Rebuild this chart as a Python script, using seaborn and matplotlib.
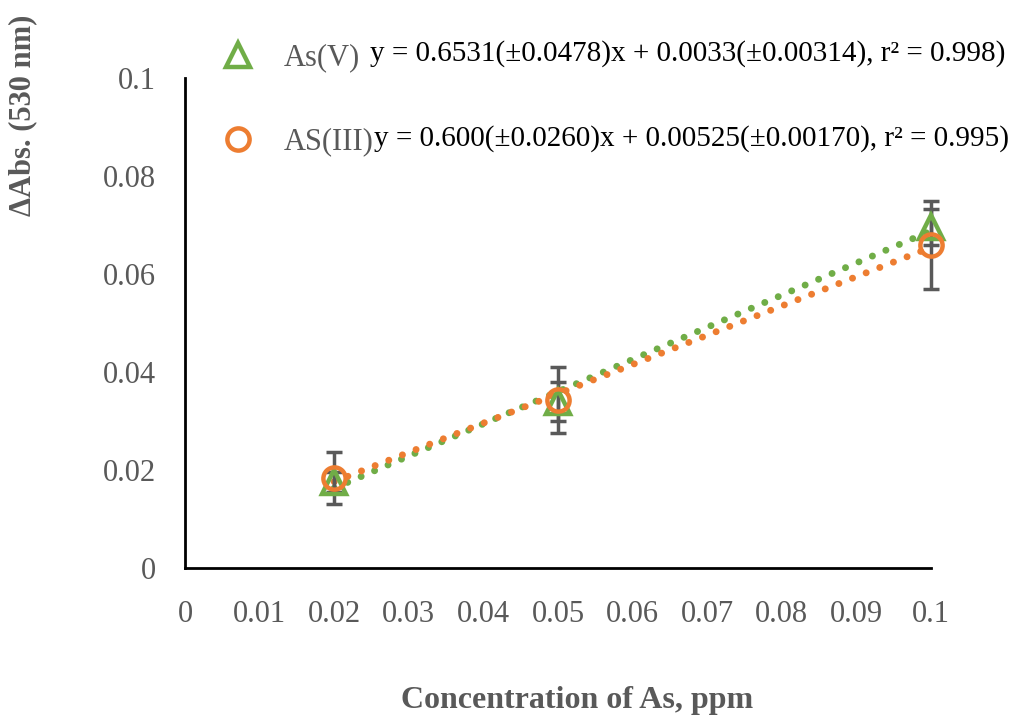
import numpy as np
import pandas as pd
import matplotlib
matplotlib.use("Agg")
import matplotlib.pyplot as plt
from matplotlib.lines import Line2D
import seaborn as sns

# ---- data ----
conc = [0.02, 0.05, 0.10]
as5_abs = [0.0176, 0.0339, 0.0696]
as5_err = [0.0020, 0.0040, 0.0037]
as3_abs = [0.0184, 0.0343, 0.0659]
as3_err = [0.0053, 0.0068, 0.0089]

series_names = ["As(V)", "AS(III)"]
equations = ["y = 0.6531(\u00b10.0478)x + 0.0033(\u00b10.00314), r\u00b2 = 0.998)",
             "y = 0.600(\u00b10.0260)x + 0.00525(\u00b10.00170), r\u00b2 = 0.995)"]
x_ticks = [0, 0.01, 0.02, 0.03, 0.04, 0.05, 0.06, 0.07, 0.08, 0.09, 0.1]
x_ticklabels = ["0", "0.01", "0.02", "0.03", "0.04", "0.05", "0.06", "0.07", "0.08", "0.09", "0.1"]
y_ticks = [0, 0.02, 0.04, 0.06, 0.08, 0.1]
y_ticklabels = ["0", "0.02", "0.04", "0.06", "0.08", "0.1"]
x_label = "Concentration of As, ppm"
y_label = "\u0394Abs. (530 nm)"

green = "#70AD47"
orange = "#ED7D31"
gray = "#595959"

sns.set_style("white")
plt.rcParams["font.family"] = ["Liberation Serif", "DejaVu Serif"]

df5 = pd.DataFrame({"x": conc, "y": as5_abs})
df3 = pd.DataFrame({"x": conc, "y": as3_abs})

fig = plt.figure(figsize=(10.17, 7.21), dpi=100)
ax = fig.add_axes([0.1819, 0.2122, 0.9154 - 0.1819, 0.8918 - 0.2122])

dot = (0, (0.01, 2.1))
sns.regplot(data=df5, x="x", y="y", ax=ax, scatter=False, ci=None, truncate=True,
            line_kws=dict(color=green, lw=5, linestyle=dot, dash_capstyle="round"))
sns.regplot(data=df3, x="x", y="y", ax=ax, scatter=False, ci=None, truncate=True,
            line_kws=dict(color=orange, lw=5, linestyle=dot, dash_capstyle="round"))

for yv, ev in [(as5_abs, as5_err), (as3_abs, as3_err)]:
    eb = ax.errorbar(conc, yv, yerr=ev, fmt="none", ecolor=gray, elinewidth=2.5,
                     capsize=6, capthick=2.5, zorder=3)
    for art in eb.lines[1] + eb.lines[2]:
        art.set_clip_on(False)

ax.plot(conc, as5_abs, linestyle="none", marker="^", ms=17, mfc="none", mec=green,
        mew=3.2, zorder=4, clip_on=False)
ax.plot(conc, as3_abs, linestyle="none", marker="o", ms=16, mfc="none", mec=orange,
        mew=3.2, zorder=5, clip_on=False)

ax.set_xlim(0, 0.1)
ax.set_ylim(0, 0.1)
ax.set_xticks(x_ticks)
ax.set_xticklabels(x_ticklabels)
ax.set_yticks(y_ticks)
ax.set_yticklabels(y_ticklabels)
ax.set_xlabel("")
ax.set_ylabel("")
for s in ["top", "right"]:
    ax.spines[s].set_visible(False)
for s in ["left", "bottom"]:
    ax.spines[s].set_color("black")
    ax.spines[s].set_linewidth(2)
ax.tick_params(axis="both", which="major", direction="out", length=9, width=2,
               color="black", labelsize=22, labelcolor=gray)
ax.tick_params(axis="x", pad=14)
ax.tick_params(axis="y", pad=12)
ax.grid(False)

fig.text(0.567, 0.029, x_label, ha="center", va="center", fontsize=23,
         fontweight="bold", color=gray)
fig.text(0.022, 0.84, y_label, ha="center", va="center", rotation=90,
         fontsize=22, fontweight="bold", color=gray)

handles = [Line2D([], [], linestyle="none", marker="^", ms=17, mfc="none", mec=green, mew=3.2),
           Line2D([], [], linestyle="none", marker="o", ms=16, mfc="none", mec=orange, mew=3.2)]
leg = fig.legend(handles, series_names, loc="upper left", bbox_to_anchor=(0.207, 0.957),
                 frameon=False, fontsize=22, labelspacing=1.8, handletextpad=1.0,
                 handlelength=1.0, borderaxespad=0)
for t in leg.get_texts():
    t.set_color(gray)

fig.text(0.364, 0.926, equations[0], ha="left", va="center", fontsize=21, color="black")
fig.text(0.368, 0.808, equations[1], ha="left", va="center", fontsize=21, color="black")

fig.savefig("out.png", dpi=100)
